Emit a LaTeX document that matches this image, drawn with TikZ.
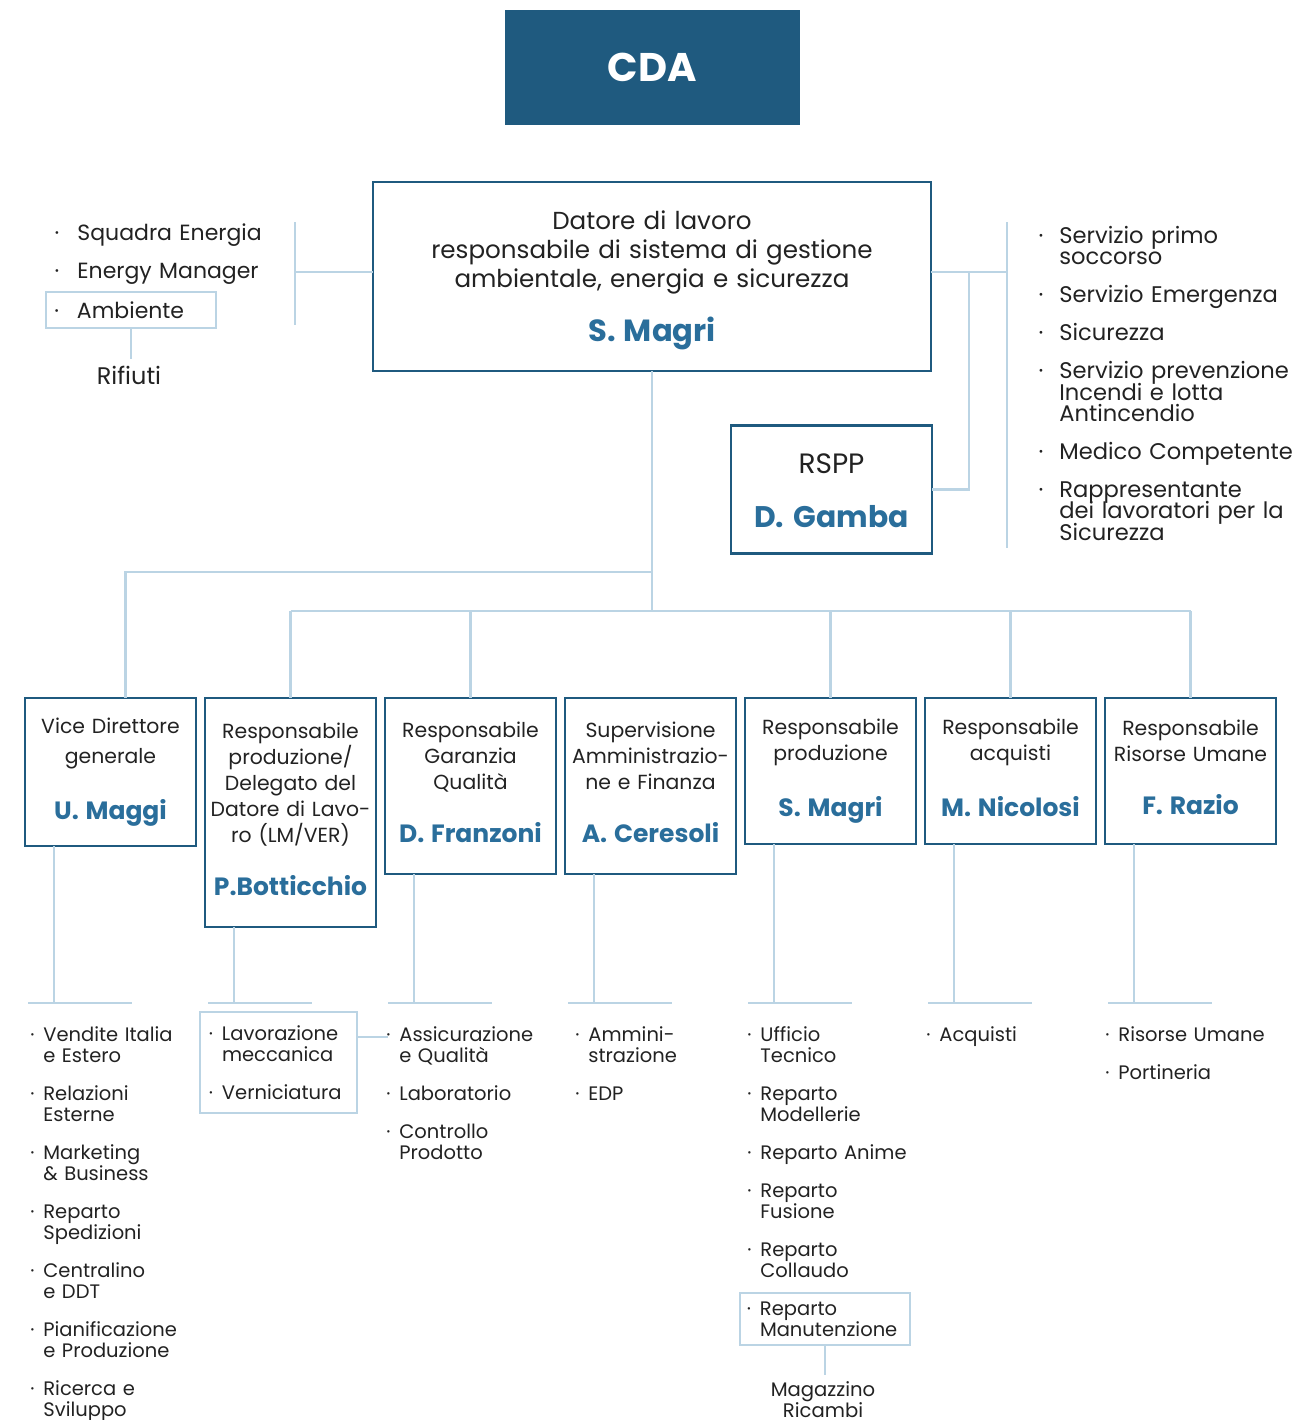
\documentclass[tikz,border=0pt]{standalone}
\usepackage{fontspec}
\setmainfont{Poppins}
\usetikzlibrary{positioning}
\definecolor{cdablue}{HTML}{1F5A7F}
\definecolor{nameblue}{HTML}{2A6E9B}
\definecolor{linkblue}{HTML}{BBD4E4}
\definecolor{ink}{HTML}{222222}
\newcommand\blt[1][4.5pt]{\leavevmode\llap{\textperiodcentered\hspace{#1}}}
\newcommand\who[3]{\par\vspace{#1}{\fontsize{#2}{#2}\selectfont\bfseries\leavevmode\color{nameblue}#3\vphantom{gp}\par}}

\begin{document}
\begin{tikzpicture}[
  x=0.5pt,y=-0.5pt,
  every node/.style={text=ink},
  unit/.style={rectangle,draw=cdablue,line width=1.3pt,align=center,outer sep=0pt,
               text width=82pt,minimum width=85.5pt,inner xsep=1.75pt,inner ysep=9pt,
               font=\fontsize{10.2}{13}\selectfont},
  sub/.style={align=left,inner sep=0pt,anchor=base west,text width=#1,
              execute at begin node={\lineskiplimit=-10pt},
              font=\fontsize{9.75}{10.5}\selectfont},
  sub/.default=80pt,
  subbox/.style={draw=linkblue,line width=1.2pt,align=left,inner sep=0pt,outer sep=0pt,
                 font=\fontsize{9.75}{10.5}\selectfont},
  link/.style={draw=linkblue,line width=1.4pt}
]
  \useasboundingbox (0,0) rectangle (1313,1420);

  \node[fill=cdablue,minimum width=147.5pt,minimum height=57.5pt,text=white,
        font=\fontsize{20}{20}\selectfont\bfseries] (cda) at (652.5,67.5) {CDA};
  \node[unit,text width=270pt,minimum width=279pt,minimum height=94.5pt,
        font=\fontsize{12.3}{14.5}\selectfont] (main) at (652,276.5)
        {\rule{0pt}{13pt}Datore di lavoro\\responsabile di sistema di gestione\\ambientale, energia e sicurezza\who{10.5pt}{15.3pt}{S. Magri}};
  \node[unit,text width=95pt,minimum width=100.5pt,minimum height=63.5pt,
        font=\fontsize{14}{14.5}\selectfont] (rspp) at (831.5,489.5)
        {\rule{0pt}{15pt}RSPP\who{12.25pt}{14.9pt}{D. Gamba}};

  \node[sub=100pt,font=\fontsize{11}{19}\selectfont] (tl) at (77,240)
        {\blt[9pt]Squadra Energia\\\blt[9pt]Energy Manager};
  \node[subbox,minimum width=85pt,minimum height=18pt,text width=54pt,
        font=\fontsize{11}{19}\selectfont] (amb) at (131,310) {\blt[9pt]Ambiente};
  \node[font=\fontsize{12}{14}\selectfont] (rif) at (129,375) {Rifiuti};

  \node[sub=125pt,font=\fontsize{11.3}{10.6}\selectfont] (rlist) at (1059,243)
        {\blt[8pt]Servizio primo\\soccorso\\[8.5pt]\blt[8pt]Servizio Emergenza\\[8.5pt]\blt[8pt]Sicurezza\\[8.5pt]%
         \blt[8pt]Servizio prevenzione\\Incendi e lotta\\Antincendio\\[8.5pt]\blt[8pt]Medico Competente\\[8.5pt]%
         \blt[8pt]Rappresentante\\dei lavoratori per la\\Sicurezza};

  \node[unit,anchor=north west,minimum height=74pt] (vice) at (25,698)
        {Vice Direttore\\[2pt]generale\who{14pt}{12.5pt}{U. Maggi}};
  \node[unit,right=4.5pt of vice.north east,anchor=north west,minimum height=114.5pt] (del)
        {Responsabile\\produzione/\\Delegato del\\Datore di Lavo-\\ro (LM/VER)\who{14pt}{12.5pt}{P.Botticchio}};
  \node[unit,right=4.5pt of del.north east,anchor=north west,minimum height=88pt] (qual)
        {Responsabile\\Garanzia\\Qualità\who{14pt}{12.5pt}{D. Franzoni}};
  \node[unit,right=4.5pt of qual.north east,anchor=north west,minimum height=88pt] (amm)
        {Supervisione\\Amministrazio-\\ne e Finanza\who{14pt}{12.5pt}{A. Ceresoli}};
  \node[unit,right=4.5pt of amm.north east,anchor=north west,minimum height=73pt] (prod)
        {Responsabile\\produzione\who{14pt}{12.5pt}{S. Magri}};
  \node[unit,right=4.5pt of prod.north east,anchor=north west,minimum height=73pt] (acq)
        {Responsabile\\acquisti\who{14pt}{12.5pt}{M. Nicolosi}};
  \node[unit,right=4.5pt of acq.north east,anchor=north west,minimum height=73pt] (hr)
        {Responsabile\\Risorse Umane\who{14pt}{12.5pt}{F. Razio}};

  \node[sub] (vlist) at (43,1041.5)
        {\blt Vendite Italia\\e Estero\\[8.5pt]\blt Relazioni\\Esterne\\[8.5pt]\blt Marketing\\\& Business\\[8.5pt]%
         \blt Reparto\\Spedizioni\\[8.5pt]\blt Centralino\\e DDT\\[8.5pt]\blt Pianificazione\\e Produzione\\[8.5pt]%
         \blt Ricerca e\\Sviluppo};
  \node[subbox,minimum width=78.5pt,minimum height=50.5pt,text width=56.5pt] (lav) at (278.5,1062.5)
        {\blt Lavorazione\\meccanica\\[8.5pt]\blt Verniciatura};
  \node[sub] (qlist) at (399,1041.5)
        {\blt Assicurazione\\e Qualità\\[8.5pt]\blt Laboratorio\\[8.5pt]\blt Controllo\\Prodotto};
  \node[sub] (alist) at (588,1041.5)
        {\blt Ammini-\\strazione\\[8.5pt]\blt EDP};
  \node[sub] (plist) at (760,1041.5)
        {\blt Ufficio\\Tecnico\\[8.5pt]\blt Reparto\\Modellerie\\[8.5pt]\blt Reparto Anime\\[8.5pt]%
         \blt Reparto\\Fusione\\[8.5pt]\blt Reparto\\Collaudo};
  \node[subbox,minimum width=85pt,minimum height=26pt,text width=65pt] (manut) at (825,1319)
        {\blt Reparto\\Manutenzione};
  \node[align=center,font=\fontsize{9.8}{10.5}\selectfont] (mag) at (823,1400) {Magazzino\\Ricambi};
  \node[sub] (aqlist) at (939,1041.5) {\blt Acquisti};
  \node[sub] (hlist) at (1118,1041.5) {\blt Risorse Umane\\[8.5pt]\blt Portineria};

  \coordinate (lj) at (295,272);
  \coordinate (ltop) at (295,222);
  \coordinate (lbot) at (295,325);
  \coordinate (rj) at (1007,272);
  \coordinate (rtop) at (1007,222);
  \coordinate (rbot) at (1007,548);
  \coordinate (rsj) at (969,272);
  \coordinate (vj) at (652,572);
  \coordinate (bus) at (652,611);
  \coordinate (tee) at (0,1003);

  \draw[link] (ltop) -- (lbot);
  \draw[link] (main.west |- lj) -- (lj);
  \draw[link] (amb.south) -- (amb.south |- rif.north);
  \draw[link] (rtop) -- (rbot);
  \draw[link] (main.east |- rj) -- (rj);
  \draw[link] (rspp.east) -| (rsj);
  \draw[link] (main.south) -- (bus);
  \draw[link] ([xshift=7.5pt]vice.north) |- (vj);
  \draw[link] (bus -| del.north) -- (bus -| hr.north);
  \foreach \n in {del,qual,prod,acq,hr}
    \draw[link] (\n.north) -- (\n.north |- bus);
  \foreach \n in {vice,del,qual,amm,prod,acq,hr}{
    \draw[link] ([xshift=14.5pt]\n.south west) -- ([xshift=14.5pt]\n.south west |- tee);
    \draw[link] ([xshift=1.5pt]\n.south west |- tee) -- ([xshift=53.5pt]\n.south west |- tee);
  }
  \draw[link] ([yshift=2.25pt]lav.east |- qlist.base west) -- ([xshift=-5.5pt,yshift=2.25pt]qlist.base west);
  \draw[link] (manut.south) -- (manut.south |- mag.north);
\end{tikzpicture}
\end{document}
